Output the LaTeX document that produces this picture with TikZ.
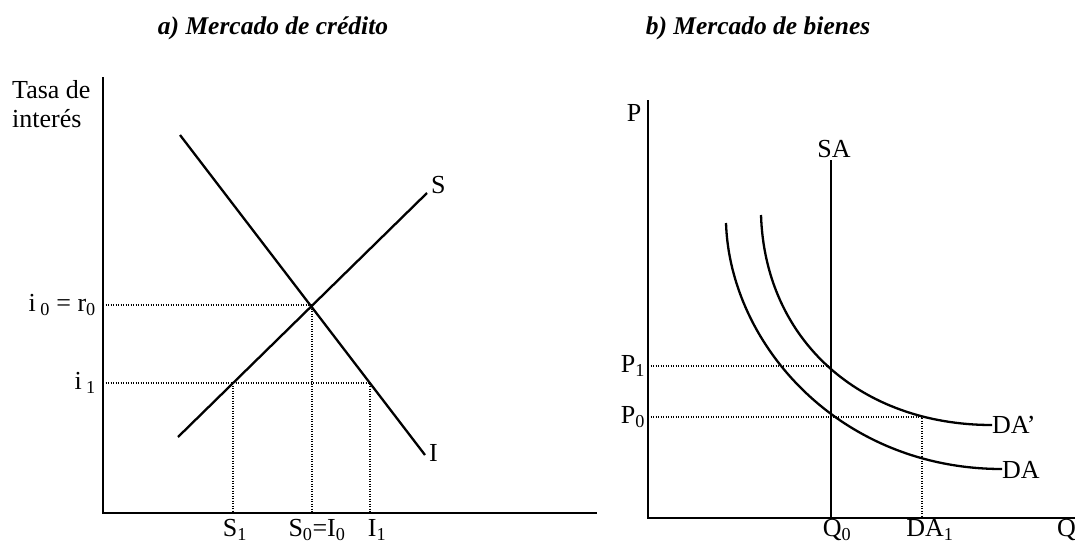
\documentclass[tikz,border=0pt]{standalone}
\usepackage{fontspec}
\setmainfont{Liberation Serif}
\begin{document}
\begin{tikzpicture}[x=1pt,y=-1pt,
  axis/.style={line width=2.6pt},
  curve/.style={line width=2.3pt},
  guide/.style={line width=1.3pt, dash pattern=on 1.2pt off 1.3pt},
  lbl/.style={inner sep=0pt, font=\fontsize{26}{29}\selectfont},
  ttl/.style={inner sep=0pt, font=\fontsize{25.5}{28}\selectfont\itshape\bfseries}]
\useasboundingbox (0,0) rectangle (1075,551);
% ---------- panel a ----------
\node[ttl] (ta) at (273,28) {a) Mercado de crédito};
\coordinate (aO) at (103,513);
\coordinate (aY) at (103,77);
\coordinate (aX) at (597,513);
\draw[axis] (aY) -- (aO) -- (aX);
\node[lbl, align=left, anchor=north west] (ylab) at (12,80) {Tasa de\\[0pt]interés};
\coordinate (Ia) at (180,135);
\coordinate (Ib) at (425,455);
\coordinate (Sa) at (178,437);
\coordinate (Sb) at (427,193);
\draw[curve] (Ia) -- (Ib);
\draw[curve] (Sa) -- (Sb);
\node[lbl, anchor=west] (Ilab) at (429,453) {I};
\node[lbl, anchor=west] (Slab) at (431,185) {S};
\coordinate (E0) at (312,305);
\coordinate (i0) at (103,305);
\coordinate (i1) at (103,383);
\coordinate (S1) at (233,383);
\coordinate (I1) at (370,383);
\draw[guide] (i0) -- (E0) -- (E0 |- aO);
\draw[guide] (i1) -- (I1) -- (I1 |- aO);
\draw[guide] (S1) -- (S1 |- aO);
\node[lbl, anchor=east] (li0) at (96,305) {i\,\textsubscript{0} = r\textsubscript{0}};
\node[lbl, anchor=east] (li1) at (96,383) {i\,\textsubscript{1}};
\node[lbl] (lS1) at (235,530) {S\textsubscript{1}};
\node[lbl] (lS0) at (317,530) {S\textsubscript{0}=I\textsubscript{0}};
\node[lbl] (lI1) at (377,530) {I\textsubscript{1}};
% ---------- panel b ----------
\node[ttl] (tb) at (758,28) {b) Mercado de bienes};
\coordinate (bO) at (648,518);
\coordinate (bY) at (648,100);
\coordinate (bX) at (1080,518);
\draw[axis] (bY) -- (bO) -- (bX);
\node[lbl] (lP) at (634,113) {P};
\coordinate (SAt) at (831,160);
\coordinate (SAb) at (831,518);
\draw[curve] (SAt) -- (SAb);
\node[lbl] (lSA) at (834,149) {SA};
\coordinate (P1) at (648,366);
\coordinate (P0) at (648,417);
\coordinate (E1) at (831,366);
\coordinate (F) at (922,417);
\draw[guide] (P1) -- (E1);
\draw[guide] (P0) -- (F) -- (F |- bO);
\coordinate (DAs) at (726,223);
\coordinate (DAe) at (1002,469);
\coordinate (DBs) at (761,215);
\coordinate (DBe) at (992,425);
\draw[curve] (DAs) .. controls (730,345) and (840,469) .. (DAe);
\draw[curve] (DBs) .. controls (765,340) and (860,425) .. (DBe);
\node[lbl, anchor=west] (lDAp) at (992,425) {DA’};
\node[lbl, anchor=west] (lDA) at (1002,470) {DA};
\node[lbl] (lP1) at (633,366) {P\textsubscript{1}};
\node[lbl] (lP0) at (633,417) {P\textsubscript{0}};
\node[lbl] (lQ0) at (837,530) {Q\textsubscript{0}};
\node[lbl] (lDA1) at (930,530) {DA\textsubscript{1}};
\node[lbl, anchor=west] (lQ) at (1057,530) {Q};
\end{tikzpicture}
\end{document}
